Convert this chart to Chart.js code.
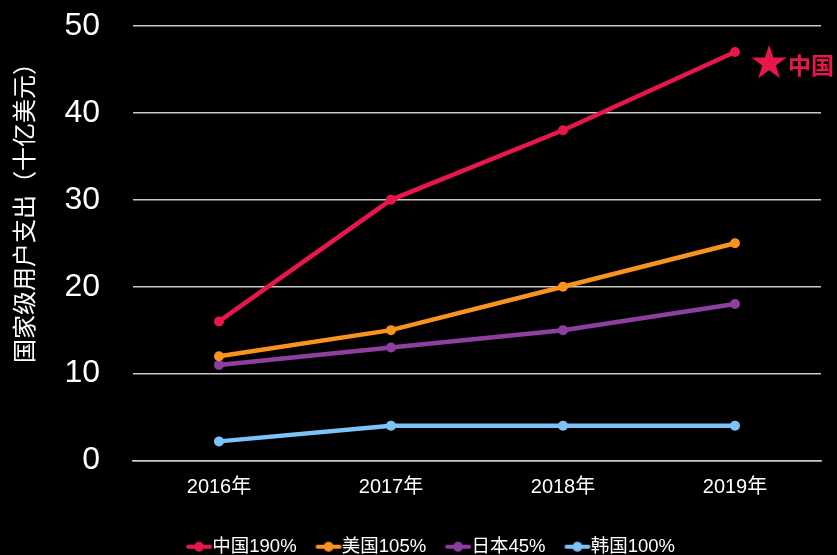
<!DOCTYPE html>
<html>
<head>
<meta charset="utf-8">
<script src="https://cdn.jsdelivr.net/npm/chart.js@4.4.1/dist/chart.umd.min.js"></script>
<style>
    html, body { margin: 0; padding: 0; background: #000; }
    #wrap { width: 837px; height: 555px; }
</style>
</head>
<body>
<div id="wrap"><canvas id="spendChart" width="837" height="555"></canvas></div>
<script>
// Data
const years = ['2016年', '2017年', '2018年', '2019年'];
const chinaSpend = [16, 30, 38, 47];
const usSpend = [12, 15, 20, 25];
const japanSpend = [11, 13, 15, 18];
const koreaSpend = [2.2, 4, 4, 4];
const seriesNames = ['中国190%', '美国105%', '日本45%', '韩国100%'];
const yTitle = '国家级用户支出（十亿美元）';
const starLabel = '中国';

const colors = ['#E8174B', '#F7931E', '#8E3F9E', '#7EC3F7'];
const FONT = "'Liberation Sans', Arial, 'Noto Sans CJK SC', sans-serif";

// legend swatch: short line with a dot, drawn at the right side of a wider canvas
// so it sits right against the label text
function makeSwatch(color) {
    const c = document.createElement('canvas');
    c.width = 46; c.height = 12;
    const g = c.getContext('2d');
    g.strokeStyle = color;
    g.lineWidth = 4;
    g.lineCap = 'round';
    g.beginPath();
    g.moveTo(21, 6); g.lineTo(43, 6);
    g.stroke();
    g.fillStyle = color;
    g.beginPath();
    g.arc(32, 6, 5, 0, Math.PI * 2);
    g.fill();
    return c;
}

// y axis title, drawn a bit above the chart-area centre like the reference
const yTitlePlugin = {
    id: 'yTitle',
    afterDraw(chart) {
        const ctx = chart.ctx;
        ctx.save();
        ctx.translate(26, 207);
        ctx.rotate(-Math.PI / 2);
        ctx.fillStyle = '#ffffff';
        ctx.font = '24px ' + FONT;
        ctx.textAlign = 'center';
        ctx.textBaseline = 'middle';
        ctx.fillText(yTitle, 0, 0);
        ctx.restore();
    }
};

// star + label next to the last China point
const starPlugin = {
    id: 'starLabel',
    afterDatasetsDraw(chart) {
        const pt = chart.getDatasetMeta(0).data[chinaSpend.length - 1];
        const ctx = chart.ctx;
        ctx.save();
        ctx.fillStyle = colors[0];
        ctx.textBaseline = 'middle';
        ctx.textAlign = 'center';
        ctx.font = '46px DejaVu Sans';
        ctx.fillText('★', pt.x + 34, pt.y + 14);
        ctx.textAlign = 'left';
        ctx.font = 'bold 23px ' + FONT;
        ctx.fillText(starLabel, pt.x + 53, pt.y + 16);
        ctx.restore();
    }
};

const allSeries = [chinaSpend, usSpend, japanSpend, koreaSpend];

new Chart(document.getElementById('spendChart').getContext('2d'), {
    type: 'line',
    data: {
        labels: years,
        datasets: allSeries.map((vals, i) => ({
            label: seriesNames[i],
            data: vals,
            borderColor: colors[i],
            backgroundColor: colors[i],
            borderWidth: 4.5,
            pointRadius: 5,
            pointBackgroundColor: colors[i],
            pointBorderWidth: 0,
            pointStyle: 'circle',
            tension: 0
        }))
    },
    options: {
        responsive: false,
        animation: false,
        devicePixelRatio: 1,
        layout: { padding: { top: 0, right: 16, left: 31, bottom: -11 } },
        plugins: {
            legend: {
                position: 'bottom',
                labels: {
                    color: '#ffffff',
                    font: { family: FONT, size: 18.5 },
                    usePointStyle: true,
                    pointStyleWidth: 26,
                    padding: 10,
                    generateLabels(chart) {
                        return chart.data.datasets.map((ds, i) => ({
                            text: ds.label,
                            fontColor: '#ffffff',
                            pointStyle: makeSwatch(colors[i]),
                            strokeStyle: colors[i],
                            fillStyle: colors[i],
                            lineWidth: 0,
                            datasetIndex: i
                        }));
                    }
                }
            },
            tooltip: { enabled: false }
        },
        scales: {
            x: {
                offset: true,
                grid: { display: false, drawTicks: false },
                border: { display: true, color: '#c8c8c8', width: 1.5 },
                ticks: { color: '#ffffff', font: { family: FONT, size: 20 }, padding: 15 },
                afterFit(scale) { scale.height = 67; }
            },
            y: {
                min: 0,
                max: 50,
                ticks: { stepSize: 10, color: '#ffffff', font: { family: FONT, size: 32 }, padding: 33 },
                grid: { color: '#c8c8c8', lineWidth: 1.5, drawTicks: false },
                border: { display: false },
                afterFit(scale) {
                    scale.width = 102;
                    scale.paddingTop = 26;
                    scale.paddingBottom = 0;
                }
            }
        }
    },
    plugins: [yTitlePlugin, starPlugin]
});
</script>
</body>
</html>
